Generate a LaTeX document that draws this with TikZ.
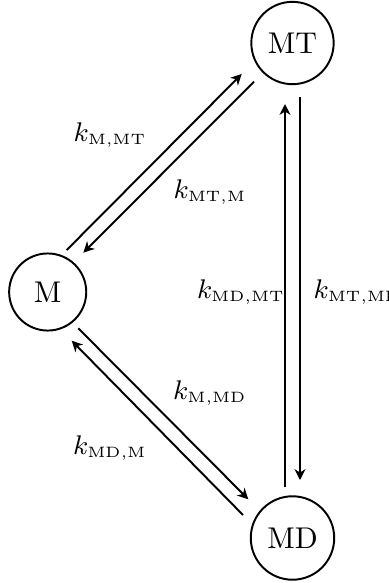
\documentclass[tikz,border=0pt]{standalone}
\usetikzlibrary{arrows.meta,calc}
\DeclareMathSizes{9}{9}{5.4}{4}
\begin{document}
\begin{tikzpicture}[x=0.3333pt,y=-0.3333pt,
  state/.style={circle,draw,line width=0.65pt,inner sep=3.6pt,minimum size=25.7pt,font=\normalsize},
  conn/.style={line width=0.65pt,-{Stealth[length=3.6pt,width=3.6pt,inset=1.1pt]}},
  rate/.style={font=\fontsize{9pt}{11pt}\selectfont,inner sep=0pt}]
\useasboundingbox (0,0) rectangle (388,583);
\node[state] (M)  at (47.7,292)  {M};
\node[state] (MT) at (292.5,43)  {MT};
\node[state] (MD) at (292.5,538) {MD};
% M <-> MT
\draw[conn] ($(M)+(19,-42)$) -- ($(MT)+(-50.8,31)$);
\draw[conn] ($(MT)+(-38.5,38.7)$) -- ($(M)+(35.6,-39.3)$);
% M <-> MD
\draw[conn] ($(M)+(30.6,36.3)$) -- ($(MD)+(-44.2,-38.7)$);
\draw[conn] ($(MD)+(-49.5,-23)$) -- ($(M)+(24,48.7)$);
% MT <-> MD
\draw[conn] ($(MD)+(-7.5,-51)$) -- ($(MT)+(-7.5,61)$);
\draw[conn] ($(MT)+(7.5,54)$) -- ($(MD)+(7.5,-58)$);
% labels
\node[rate] (l1) at (110,135) {$k_{\mathrm{M,MT}}$};
\node[rate] (l2) at (210,192) {$k_{\mathrm{MT,M}}$};
\node[rate] (l3) at (241,292) {$k_{\mathrm{MD,MT}}$};
\node[rate,anchor=west] (l4) at (313,292) {$k_{\mathrm{MT,MD}}$};
\node[rate] (l5) at (210,393) {$k_{\mathrm{M,MD}}$};
\node[rate] (l6) at (110,448) {$k_{\mathrm{MD,M}}$};
\end{tikzpicture}
\end{document}
